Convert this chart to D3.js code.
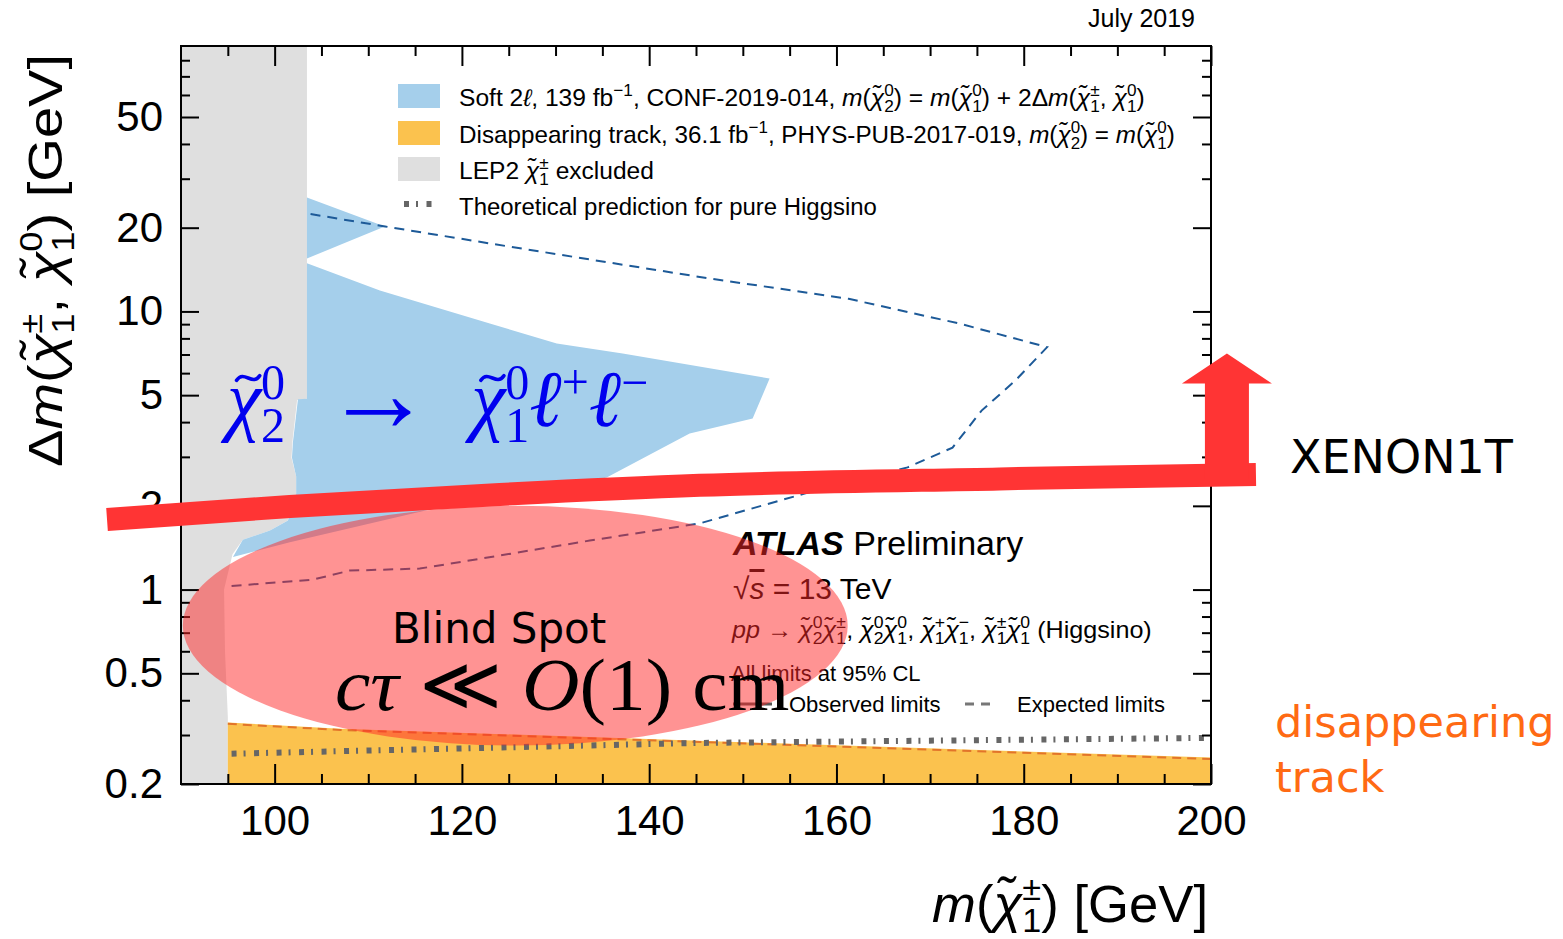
<!DOCTYPE html>
<html>
<head>
<meta charset="utf-8">
<script src="https://d3js.org/d3.v7.min.js"></script>
<style>
  body { margin: 0; background: white; }
  text { white-space: pre; }
</style>
</head>
<body>
<div id="chart"></div>
<script>
// ---- data ----
var xTicks = [100, 120, 140, 160, 180, 200];
var xTickLabels = ["100", "120", "140", "160", "180", "200"];
var xMinorTicks = [95, 105, 110, 115, 125, 130, 135, 145, 150, 155, 165, 170, 175, 185, 190, 195];
var yTicks = [0.2, 0.5, 1, 2, 5, 10, 20, 50];
var yTickLabels = ["0.2", "0.5", "1", "2", "5", "10", "20", "50"];
var yMinorTicks = [0.3, 0.4, 0.6, 0.7, 0.8, 0.9, 3, 4, 6, 7, 8, 9, 30, 40, 60, 70, 80];

// LEP2 excluded region [m(chargino), dm]
var lep2 = [[90, 90], [103.45, 90], [103.45, 4.85], [102.4, 4.8], [101.9, 3.4], [101.8, 2.98],
            [102.3, 2.55], [102.3, 2.2], [101.4, 1.77], [99.5, 1.63], [96.6, 1.51], [95.5, 1.34],
            [94.6, 1.0], [94.7, 0.6], [95.0, 0.35], [95.0, 0.2], [90, 0.2]];
// Soft 2l observed exclusion (two pieces)
var soft2lUpper = [[103.45, 25.7], [111.77, 20.2], [103.45, 15.5]];
var soft2lMain = [[103.45, 14.9], [111.24, 11.9], [122.98, 9.05], [130.13, 7.67], [137.17, 7.06],
                  [152.86, 5.74], [151.05, 4.12], [144.32, 3.64], [135.46, 2.53], [126.18, 2.14],
                  [116.57, 1.94], [101.63, 1.48], [95.55, 1.31], [96.6, 1.51], [99.5, 1.63],
                  [101.42, 1.77], [102.3, 2.21], [102.3, 2.55], [101.85, 2.98], [101.95, 3.38],
                  [102.49, 4.83], [103.45, 4.85]];
// Soft 2l expected limit
var soft2lExpected = [[95.4, 1.03], [104.1, 1.086], [108.0, 1.17], [115.5, 1.19], [121.9, 1.29],
                      [133.65, 1.5], [145.4, 1.73], [156.5, 2.21], [167.6, 2.75], [172.4, 3.24],
                      [175.5, 4.4], [179.1, 5.64], [182.5, 7.44], [173.1, 9.05], [161.3, 11.1],
                      [145.4, 13.3], [126.5, 16.8], [111.8, 20.2], [103.45, 22.5]];
// Disappearing track observed (upper edge) and expected
var disTrackObs = [[95, 0.333], [107, 0.316], [145.4, 0.286], [200, 0.249]];
var disTrackExp = [[95, 0.329], [107, 0.313], [145.4, 0.283], [200, 0.246]];
// Theoretical prediction for pure Higgsino
var higgsinoTheory = [[95.4, 0.257], [145.4, 0.281], [200, 0.293]];
// annotations
var xenonBand = [[82.1, 1.786], [101.63, 1.99], [124.04, 2.197], [145.39, 2.37], [177.4, 2.5], [204.8, 2.59]];
var xenonArrowX = 201.7;
var xenonArrowY = [2.51, 5.51, 7.06];   // shaft bottom, head base, tip
var blindSpotX = [90.2, 161.2];
var blindSpotY = [0.275, 2.0];

var legendLabels = [
  "Soft 2*{ℓ}, 139 fb^{−1}, CONF-2019-014, *{m}(*{χ̃}^{0}_{2}) = *{m}(*{χ̃}^{0}_{1}) + 2Δ*{m}(*{χ̃}^{±}_{1}, *{χ̃}^{0}_{1})",
  "Disappearing track, 36.1 fb^{−1}, PHYS-PUB-2017-019, *{m}(*{χ̃}^{0}_{2}) = *{m}(*{χ̃}^{0}_{1})",
  "LEP2 *{χ̃}^{±}_{1} excluded",
  "Theoretical prediction for pure Higgsino"
];

// ---- set up ----
var W = 1563, H = 939;
var x = d3.scaleLinear().domain([90, 200]).range([181, 1211]);
var y = d3.scaleLog().domain([0.2, 90]).range([784, 46]);
var sans = "Liberation Sans, Arial, sans-serif";

var svg = d3.select("#chart").append("svg")
    .attr("width", W).attr("height", H)
    .style("font-family", sans);

svg.append("clipPath").attr("id", "plotclip")
   .append("rect").attr("x", 181).attr("y", 46).attr("width", 1030).attr("height", 738);

// mini markup: ^{sup} _{sub} *{italic} !{bold italic} %{italic overline}
//              ~{italic with drawn tilde} &{enlarged}
function parse(s) {
  var out = [], buf = "", i = 0;
  while (i < s.length) {
    var c = s[i];
    if ("^_*!%~&".indexOf(c) >= 0 && s[i + 1] === "{") {
      if (buf) { out.push({t: buf, k: ""}); buf = ""; }
      var j = s.indexOf("}", i + 2);
      out.push({t: s.slice(i + 2, j), k: c});
      i = j + 1;
    } else { buf += c; i++; }
  }
  if (buf) out.push({t: buf, k: ""});
  return out;
}

function rich(g, s, fs, o) {
  o = o || {};
  var sup = o.sup || 0.42, sub = o.sub || 0.24, sc = o.sc || 0.65;
  var t = g.append("text").attr("font-size", fs);
  if (o.anchor) t.attr("text-anchor", o.anchor);
  if (o.family) t.attr("font-family", o.family);
  if (o.color) t.attr("fill", o.color);
  var cur = 0, prev = null, pending = 0, tildes = [];
  parse(s).forEach(function(p) {
    var off = 0;
    if (p.k === "^") off = -sup * fs;
    if (p.k === "_") off = sub * fs;
    if (p.k === "&") off = 0.06 * fs;
    var ts = t.append("tspan").text(p.t);
    if (off - cur) ts.attr("dy", off - cur);
    cur = off;
    if (p.k === "^" || p.k === "_") ts.attr("font-size", sc * fs);
    if (p.k === "&") ts.attr("font-size", 1.4 * fs);
    if (p.k === "*" || p.k === "%" || p.k === "~") ts.attr("font-style", "italic");
    if (p.k === "!") ts.attr("font-style", "italic").attr("font-weight", "bold");
    if (p.k === "%") ts.style("text-decoration", "overline");
    if (p.k === "~") tildes.push(ts.node());
    var dx = pending; pending = 0;
    if (p.k === "_" && prev && prev.k === "^") {
      var a = prev.node.getComputedTextLength(), b = ts.node().getComputedTextLength();
      dx -= a;
      if (a > b) pending = a - b;
    }
    if (dx) ts.attr("dx", dx);
    prev = {k: p.k, node: ts.node()};
  });
  // tilde accents as small strokes above their letters
  tildes.forEach(function(n) {
    var b = n.getExtentOfChar(0), p0 = n.getStartPositionOfChar(0);
    var cx = b.x + b.width * 0.62, cy = p0.y - 0.6 * fs, w = 0.3 * fs, a = 0.05 * fs;
    g.append("path")
     .attr("d", "M" + (cx - w / 2) + "," + (cy + a * 0.6) +
                " C" + (cx - w / 6) + "," + (cy - a * 2.2) + " " + (cx + w / 6) + "," + (cy + a * 2.2) +
                " " + (cx + w / 2) + "," + (cy - a * 0.6))
     .attr("fill", "none").attr("stroke", o.color || "#000")
     .attr("stroke-width", 0.045 * fs).attr("stroke-linecap", "round");
  });
  return t;
}

// text stretched horizontally to a given width
function fitted(tr, s, fs, width, o) {
  var g = svg.append("g");
  var t = rich(g, s, fs, o);
  var k = width / t.node().getBBox().width;
  g.attr("transform", tr + " scale(" + k + ",1)");
  return t;
}

var line = d3.line().x(function(d) { return x(d[0]); }).y(function(d) { return y(d[1]); });
var plot = svg.append("g").attr("clip-path", "url(#plotclip)");

// ---- regions ----
plot.append("path").datum(lep2).attr("d", line.curve(d3.curveLinearClosed)).attr("fill", "#dfdfdf");
plot.append("path").datum(soft2lUpper).attr("d", line).attr("fill", "#a5cfeb");
plot.append("path").datum(soft2lMain).attr("d", line).attr("fill", "#a5cfeb");
line.curve(d3.curveLinear);

var orangeArea = d3.area().x(function(d) { return x(d[0]); })
    .y0(y(0.2)).y1(function(d) { return y(d[1]); });
plot.append("path").datum(disTrackObs).attr("d", orangeArea).attr("fill", "#fbc24e");

plot.append("path").datum(soft2lExpected).attr("d", line)
    .attr("fill", "none").attr("stroke", "#1d5a98").attr("stroke-width", 2)
    .attr("stroke-dasharray", "10,7");
plot.append("path").datum(disTrackExp).attr("d", line)
    .attr("fill", "none").attr("stroke", "#e2742a").attr("stroke-width", 2)
    .attr("stroke-dasharray", "9,6");
plot.append("path").datum(higgsinoTheory).attr("d", line)
    .attr("fill", "none").attr("stroke", "#666").attr("stroke-width", 6)
    .attr("stroke-dasharray", "5,7,2,8.5");

// ---- axes ----
function axis(gen, tr, vals, size, fmt, pad) {
  var g = svg.append("g").attr("transform", tr)
      .call(gen.tickValues(vals).tickSize(size).tickPadding(pad || 3).tickFormat(fmt || ""));
  g.select(".domain").remove();
  g.selectAll("line").attr("stroke", "#000").attr("stroke-width", 2);
  g.attr("font-family", sans).attr("font-size", 42);
  g.selectAll("text").attr("fill", "#000");
  return g;
}
var xFmt = function(d, i) { return xTickLabels[i]; };
var yFmt = function(d, i) { return yTickLabels[i]; };
axis(d3.axisBottom(x), "translate(0,784)", xTicks, -20, xFmt, 21);
axis(d3.axisBottom(x), "translate(0,784)", xMinorTicks, -10);
axis(d3.axisTop(x), "translate(0,46)", xTicks, -20);
axis(d3.axisTop(x), "translate(0,46)", xMinorTicks, -10);
axis(d3.axisLeft(y), "translate(181,0)", yTicks, -18, yFmt, 18);
axis(d3.axisLeft(y), "translate(181,0)", yMinorTicks, -9);
axis(d3.axisRight(y), "translate(1211,0)", yTicks, -18);
axis(d3.axisRight(y), "translate(1211,0)", yMinorTicks, -9);

svg.append("rect").attr("x", 181).attr("y", 46).attr("width", 1030).attr("height", 738)
   .attr("fill", "none").attr("stroke", "#000").attr("stroke-width", 2);

// axis titles
fitted("translate(1208,922)", "*{m}(*{χ̃}^{±}_{1}) [GeV]", 52, 276, {anchor: "end", sub: 0.2});
fitted("translate(62,54) rotate(-90)", "Δ*{m}(*{χ̃}^{±}_{1}, *{χ̃}^{0}_{1}) [GeV]", 48, 413, {anchor: "end"});

rich(svg.append("g").attr("transform", "translate(1088,27)"), "July 2019", 25);

// ---- legend ----
var legendFill = ["#a5cfeb", "#fbc24e", "#dfdfdf"];
var legendBase = [106, 143, 179, 215];
var legendWidth = [686, 716, 195, 418];
var lg = svg.append("g");
legendFill.forEach(function(c, i) {
  lg.append("rect").attr("x", 398).attr("y", legendBase[i] - 22).attr("width", 42).attr("height", 24)
    .attr("fill", c);
});
lg.append("line").attr("x1", 404).attr("x2", 435).attr("y1", 204).attr("y2", 204)
  .attr("stroke", "#666").attr("stroke-width", 6).attr("stroke-dasharray", "5,7,2,8.5");
legendLabels.forEach(function(s, i) {
  fitted("translate(459," + legendBase[i] + ")", s, 24, legendWidth[i], {sc: 0.7});
});

// ---- ATLAS label block ----
function put(px, py, s, fs, o) { return rich(svg.append("g").attr("transform", "translate(" + px + "," + py + ")"), s, fs, o); }
put(733, 555, "!{ATLAS} Preliminary", 34);
put(733, 599, "√%{s} = 13 TeV", 30);
fitted("translate(732,638)", "*{pp} → *{χ̃}^{0}_{2}*{χ̃}^{±}_{1}, *{χ̃}^{0}_{2}*{χ̃}^{0}_{1}, *{χ̃}^{+}_{1}*{χ̃}^{−}_{1}, *{χ̃}^{±}_{1}*{χ̃}^{0}_{1} (Higgsino)", 24, 421, {sc: 0.7});
put(731, 681, "All limits at 95% CL", 22);
svg.append("line").attr("x1", 733).attr("x2", 772).attr("y1", 704).attr("y2", 704)
   .attr("stroke", "#555").attr("stroke-width", 3);
put(789, 712, "Observed limits", 22);
svg.append("line").attr("x1", 965).attr("x2", 996).attr("y1", 704).attr("y2", 704)
   .attr("stroke", "#777").attr("stroke-width", 3).attr("stroke-dasharray", "9,7");
put(1017, 712, "Expected limits", 22);

// ---- slide annotations ----
svg.append("ellipse")
   .attr("cx", (x(blindSpotX[0]) + x(blindSpotX[1])) / 2)
   .attr("cy", (y(blindSpotY[0]) + y(blindSpotY[1])) / 2)
   .attr("rx", (x(blindSpotX[1]) - x(blindSpotX[0])) / 2)
   .attr("ry", (y(blindSpotY[0]) - y(blindSpotY[1])) / 2)
   .attr("fill", "rgb(255,40,40)").attr("fill-opacity", 0.5);

var slideFont = "DejaVu Sans, sans-serif";
var serif = "Liberation Serif, serif";
put(392, 643, "Blind Spot", 42, {family: slideFont, color: "#000"});
fitted("translate(335,710)", "*{cτ} ≪ *{O}(1) cm", 75, 455, {family: serif, color: "#000"});

svg.append("path").datum(xenonBand)
   .attr("d", d3.line().x(function(d) { return x(d[0]); }).y(function(d) { return y(d[1]); }).curve(d3.curveMonotoneX))
   .attr("fill", "none").attr("stroke", "#ff3434").attr("stroke-width", 23);
var ax = x(xenonArrowX), ay = xenonArrowY.map(function(v) { return y(v); });
svg.append("path")
   .attr("d", d3.line()([[ax, ay[2]], [ax + 45, ay[1]], [ax + 22, ay[1]], [ax + 22, ay[0]],
                          [ax - 22, ay[0]], [ax - 22, ay[1]], [ax - 45, ay[1]]]) + "Z")
   .attr("fill", "#ff3434");

fitted("translate(227,426)", "~{χ}^{0}_{2}  &{→}  ~{χ}^{0}_{1}*{ℓ}^{+}*{ℓ}^{−}", 80, 428,
       {sup: 0.34, sub: 0.2, sc: 0.62, family: serif, color: "#0000ee"});

put(1290, 473, "XENON1T", 46, {family: slideFont, color: "#000"});
put(1275, 737, "disappearing", 43, {family: slideFont, color: "#ff6a13"});
put(1275, 792, "track", 43, {family: slideFont, color: "#ff6a13"});
</script>
</body>
</html>
